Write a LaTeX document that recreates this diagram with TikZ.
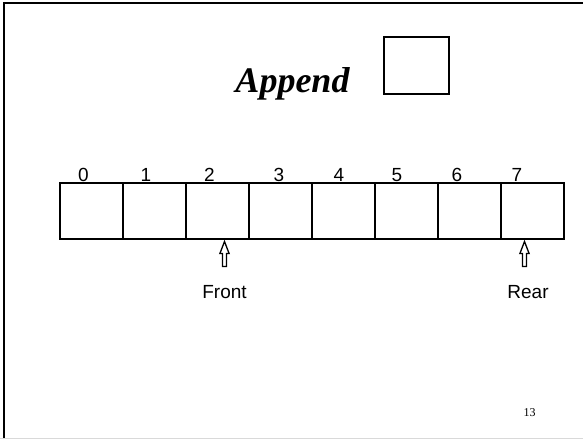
\documentclass[tikz,border=0pt]{standalone}
\usepackage{fontspec}
\setmainfont{Liberation Serif}
\setsansfont{Liberation Sans}
\begin{document}
\begin{tikzpicture}[x=1pt,y=-1pt,
  cell/.style={draw, line width=1.5pt, minimum width=63pt, minimum height=56pt, inner sep=0pt, outer sep=0pt},
  idx/.style={font=\sffamily\fontsize{19}{19}\selectfont, anchor=base, inner sep=0pt},
  lbl/.style={font=\sffamily\fontsize{19}{19}\selectfont, anchor=base, inner sep=0pt},
  uparrow/.pic={\draw[line width=1.3pt, line join=miter] (0,0) -- (4.6,12) -- (2,12) -- (2,25) -- (-2,25) -- (-2,12) -- (-4.6,12) -- cycle;}
]
\useasboundingbox (0,0) rectangle (583,439);
% slide frame
\draw[line width=2.5pt] (4,439) -- (4,3) -- (583,3);
\draw[line width=1pt, black!15] (0,438.5) -- (583,438.5);
% title
\node[anchor=base, inner sep=0pt, font=\bfseries\itshape\fontsize{36}{36}\selectfont] (title) at (292.5,92) {Append};
\node[cell, minimum width=65pt, minimum height=57pt] (abox) at (416.5,65.5) {};
% array cells
\foreach \i in {0,...,7} {
  \node[cell] (c\i) at ({91.5+63*\i},211) {};
}
% indices
\foreach \i/\x in {0/83.5,1/146,2/209.5,3/279,4/339,5/397,6/457,7/517} {
  \node[idx] (i\i) at (\x,181) {\i};
}
% labels
\node[lbl] (front) at (224.5,298) {Front};
\node[lbl] (rear) at (528,298) {Rear};
% pointer arrows
\coordinate (ftip) at ([yshift=-2.5pt]front.north |- c2.south);
\coordinate (rtip) at ([xshift=-3.5pt,yshift=-2.5pt]rear.north |- c7.south);
\pic at (ftip) {uparrow};
\pic at (rtip) {uparrow};
% page number
\node[anchor=base, inner sep=0pt, font=\fontsize{12}{12}\selectfont] (pg) at (529.5,416.5) {13};
\end{tikzpicture}
\end{document}
